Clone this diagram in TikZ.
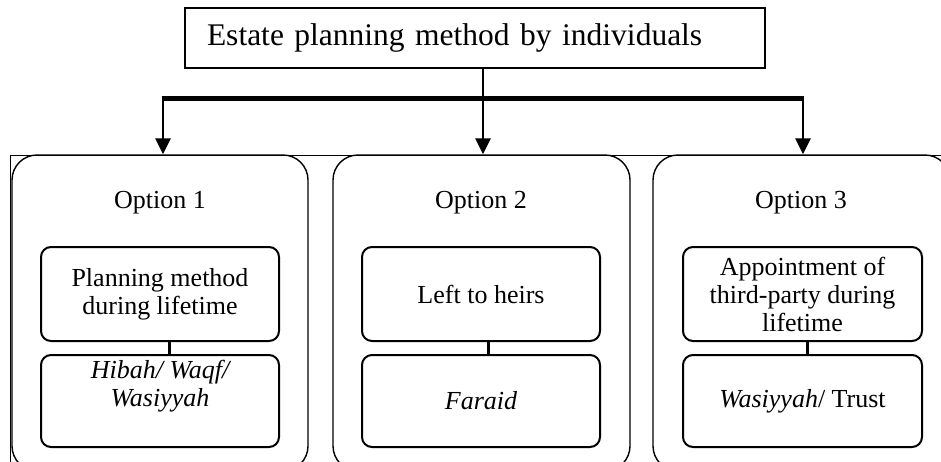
\documentclass[tikz,border=0pt]{standalone}
\usepackage{fontspec}
\setmainfont{Liberation Serif}
\usetikzlibrary{arrows.meta}
\begin{document}
\begin{tikzpicture}[x=1pt,y=-1pt,
  titlebox/.style={draw,line width=1.6pt,minimum width=580pt,minimum height=60pt,inner xsep=22pt,text width=536pt,align=left,font=\fontsize{31.5}{36}\selectfont},
  bigbox/.style={draw,line width=1.4pt,rounded corners=25pt,minimum height=316pt},
  innerbox/.style={draw,line width=2pt,rounded corners=10pt,minimum width=238pt,align=center,font=\fontsize{26}{28}\selectfont},
  innertext/.style={align=center,font=\fontsize{26}{28}\selectfont},
  optlabel/.style={font=\fontsize{26}{28}\selectfont},
  frameline/.style={line width=1pt},
  arrowline/.style={line width=2.6pt,-{Triangle[length=16pt,width=15pt]}},
  barline/.style={line width=5pt},
  linkline/.style={line width=3pt}
]
\useasboundingbox (0,0) rectangle (941,461);
\clip (0,0) rectangle (941,461);
% frame
\draw[frameline] (10,475) -- (10,155) -- (960,155);
% title
\node[titlebox] (title) at (475,38) {Estate planning method by individuals};
% big boxes
\node[bigbox,minimum width=296pt] (o1) at (160,313) {};
\node[bigbox,minimum width=297pt] (o2) at (481.5,313) {};
\node[bigbox,minimum width=297pt] (o3) at (801.5,313) {};
\node[optlabel] (l1) at (160,203) {Option 1};
\node[optlabel] (l2) at (481,203) {Option 2};
\node[optlabel] (l3) at (801,203) {Option 3};
% inner boxes
\node[innerbox,minimum height=94pt] (t1) at (160,294) {Planning method\\during lifetime};
\node[innerbox,minimum height=94pt] (t2) at (481,294) {Left to heirs};
\node[innerbox,minimum height=94pt,minimum width=239pt] (t3) at (802.5,294) {Appointment of\\third-party during\\lifetime};
\node[innerbox,minimum height=92pt] (b1) at (160,401) {};
\node[innertext] (b1t) at (160,386) {\itshape Hibah/ Waqf/\\\itshape Wasiyyah};
\node[innerbox,minimum height=92pt] (b2) at (481,401) {\itshape Faraid};
\node[innerbox,minimum height=92pt,minimum width=239pt] (b3) at (802.5,401) {\textit{Wasiyyah}/ Trust};
% connectors between inner boxes
\draw[linkline] ([xshift=9pt]t1.south) -- ([xshift=9pt]b1.north);
\draw[linkline] ([xshift=7pt]t2.south) -- ([xshift=7pt]b2.north);
\draw[linkline] ([xshift=5pt]t3.south) -- ([xshift=5pt]b3.north);
% tree connectors
\coordinate (bl) at (163,98);
\coordinate (bm) at (483,98);
\coordinate (br) at (803,98);
\draw[linkline,line width=2.6pt] (title.south -| bm) -- (bm);
\draw[barline] ([xshift=-1.3pt]bl) -- ([xshift=1.3pt]br);
\draw[arrowline] (bl) -- (o1.north -| bl);
\draw[arrowline] (bm) -- (o2.north -| bm);
\draw[arrowline] (br) -- (o3.north -| br);
\end{tikzpicture}
\end{document}
